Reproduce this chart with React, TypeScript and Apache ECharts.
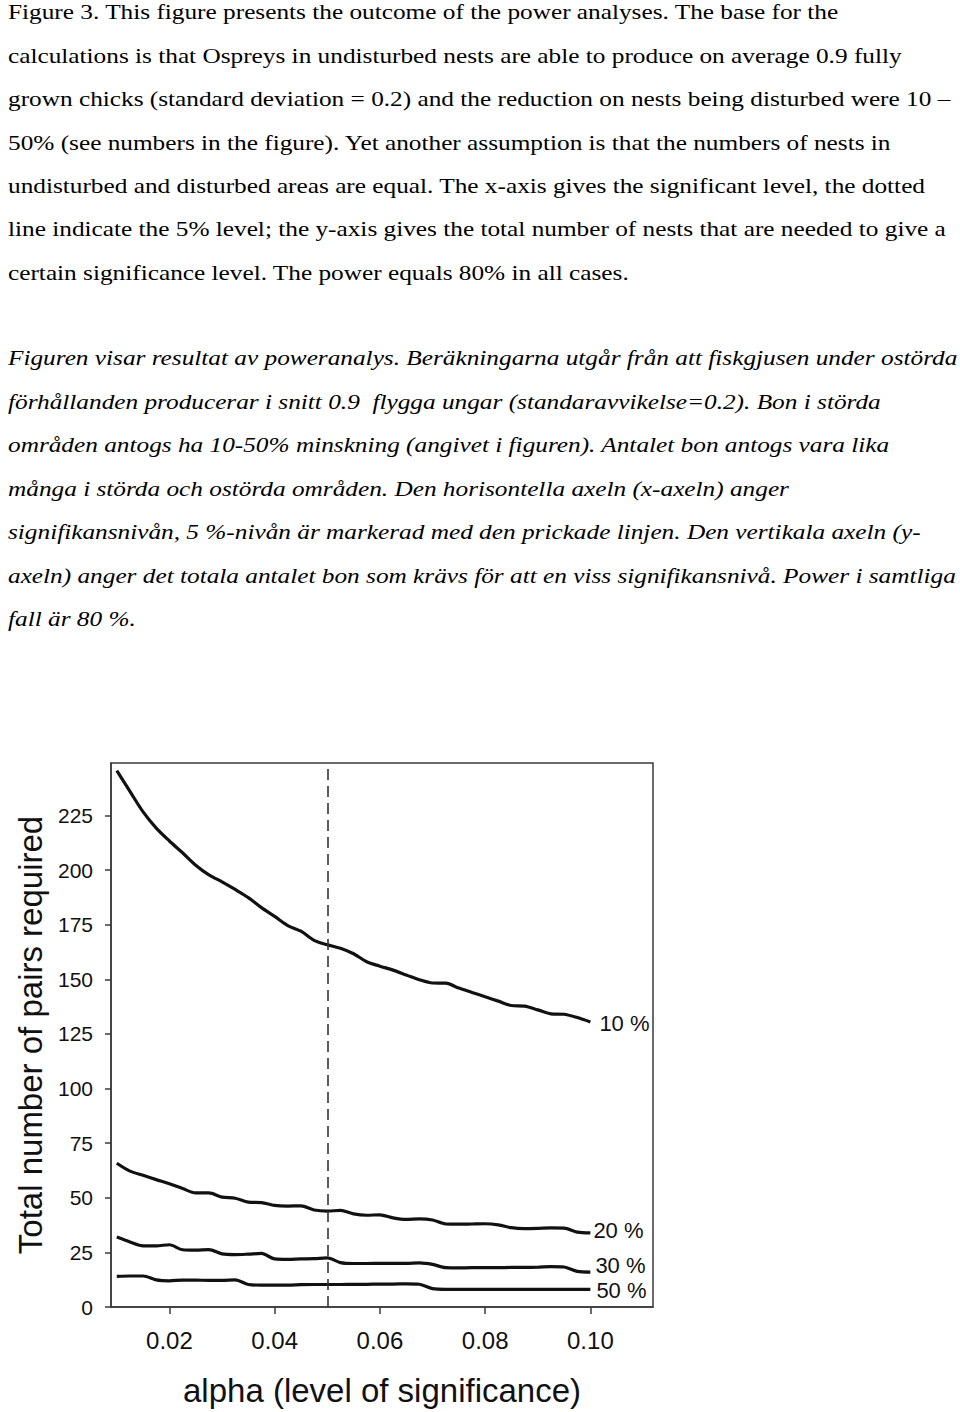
import React, { useEffect, useRef } from "react";
import * as echarts from "echarts";

// ---- Data ----
const alpha = [
  0.01, 0.0125, 0.015, 0.0175, 0.02, 0.0225, 0.025, 0.0275, 0.03, 0.0325,
  0.035, 0.0375, 0.04, 0.0425, 0.045, 0.0475, 0.05, 0.0525, 0.055, 0.0575,
  0.06, 0.0625, 0.065, 0.0675, 0.07, 0.0725, 0.075, 0.0775, 0.08, 0.0825,
  0.085, 0.0875, 0.09, 0.0925, 0.095, 0.0975, 0.1,
];

const pairs10 = [
  245.5, 236, 226.6, 219.2, 213.3, 207.9, 202.2, 197.8, 194.6, 191.1,
  187.4, 182.8, 178.8, 174.6, 172, 167.8, 165.8, 164.2, 161.7, 158,
  156, 154.2, 152, 149.8, 148.3, 148.2, 146, 144, 142, 140,
  138, 137.7, 136, 134.2, 134, 132.5, 130.5,
];

const pairs20 = [
  65.8, 62.2, 60.3, 58.3, 56.4, 54.2, 52.2, 52.2, 50.3, 49.8,
  48, 47.8, 46.5, 46.2, 46.3, 44.4, 43.9, 44.2, 42.6, 42,
  42.2, 40.8, 40.1, 40.3, 39.8, 38, 37.9, 38, 38.1, 37.6,
  36.3, 35.9, 36, 36.2, 36.1, 34.3, 33.9,
];

const pairs30 = [
  32, 29.8, 28, 28, 28.5, 26.2, 26, 26.3, 24.3, 24,
  24.2, 24.5, 22, 21.8, 22, 22.1, 22.5, 20.3, 19.9, 19.9,
  20, 20, 20, 20.2, 19.5, 18, 17.9, 18, 18, 18,
  18.1, 18.1, 18.2, 18.5, 18.3, 16.3, 16,
];

const pairs50 = [
  14, 14.2, 14.2, 12.4, 12, 12.3, 12.3, 12.2, 12.2, 12.4,
  10.3, 10, 10, 10, 10.2, 10.3, 10.3, 10.3, 10.4, 10.4,
  10.5, 10.5, 10.6, 10.4, 8.4, 8.1, 8.1, 8.1, 8.1, 8.1,
  8.1, 8.1, 8.1, 8.1, 8.1, 8.1, 8.1,
];

const seriesNames = ["10 %", "20 %", "30 %", "50 %"];
const xTicks = [0.02, 0.04, 0.06, 0.08, 0.1];
const yTicks = [0, 25, 50, 75, 100, 125, 150, 175, 200, 225];
const fivePercentLevel = 0.05;

const captionEnglish = [
  "Figure 3. This figure presents the outcome of the power analyses. The base for the",
  "calculations is that Ospreys in undisturbed nests are able to produce on average 0.9 fully",
  "grown chicks (standard deviation = 0.2) and the reduction on nests being disturbed were 10 \u2013",
  "50% (see numbers in the figure). Yet another assumption is that the numbers of nests in",
  "undisturbed and disturbed areas are equal. The x-axis gives the significant level, the dotted",
  "line indicate the 5% level; the y-axis gives the total number of nests that are needed to give a",
  "certain significance level. The power equals 80% in all cases.",
];

const captionSwedish = [
  "Figuren visar resultat av poweranalys. Beräkningarna utgår från att fiskgjusen under ostörda",
  "förhållanden producerar i snitt 0.9  flygga ungar (standaravvikelse=0.2). Bon i störda",
  "områden antogs ha 10-50% minskning (angivet i figuren). Antalet bon antogs vara lika",
  "många i störda och ostörda områden. Den horisontella axeln (x-axeln) anger",
  "signifikansnivån, 5 %-nivån är markerad med den prickade linjen. Den vertikala axeln (y-",
  "axeln) anger det totala antalet bon som krävs för att en viss signifikansnivå. Power i samtliga",
  "fall är 80 %.",
];

const SANS = "'Liberation Sans', Arial, sans-serif";
const SERIF = "'Liberation Serif', 'Times New Roman', serif";

export default function App() {
  const ref = useRef<HTMLDivElement>(null);

  useEffect(() => {
    if (!ref.current) return;
    const chart = echarts.init(ref.current, undefined, { renderer: "svg" });

    const allSeries = [pairs10, pairs20, pairs30, pairs50];
    const labelOffsets: [number, number][] = [
      [5, 2],
      [-1, -2],
      [1, -7],
      [2, 1],
    ];

    const captionGraphics: any[] = [];
    captionEnglish.forEach((t, i) => {
      captionGraphics.push({
        type: "text",
        x: 8,
        y: 12 + i * 43.4,
        scaleX: 1.15,
        style: {
          text: t,
          fill: "#000",
          font: `22px ${SERIF}`,
          textVerticalAlign: "middle",
        },
      });
    });
    captionSwedish.forEach((t, i) => {
      captionGraphics.push({
        type: "text",
        x: 8,
        y: 358 + i * 43.5,
        scaleX: 1.15,
        style: {
          text: t,
          fill: "#000",
          font: `italic 22px ${SERIF}`,
          textVerticalAlign: "middle",
        },
      });
    });

    chart.setOption({
      animation: false,
      backgroundColor: "#fff",
      grid: {
        left: 111,
        right: 307,
        top: 763,
        bottom: 105,
        show: true,
        borderColor: "#3a3a3a",
        borderWidth: 1.5,
        containLabel: false,
      },
      xAxis: {
        type: "value",
        min: 0.0089,
        max: 0.1119,
        name: "alpha (level of significance)",
        nameLocation: "middle",
        nameGap: 67,
        nameTextStyle: { fontFamily: SANS, fontSize: 33, color: "#111" },
        splitLine: { show: false },
        axisLine: { show: true, lineStyle: { color: "#3a3a3a", width: 1.5 } },
        axisTick: {
          show: true,
          length: 7,
          customValues: xTicks,
          lineStyle: { color: "#3a3a3a", width: 1.5 },
        },
        axisLabel: {
          customValues: xTicks,
          margin: 21,
          fontFamily: SANS,
          fontSize: 24,
          color: "#111",
          formatter: (v: number) => v.toFixed(2),
        },
      },
      yAxis: {
        type: "value",
        min: 0,
        max: 249,
        name: "Total number of pairs required",
        nameLocation: "middle",
        nameGap: 63,
        nameTextStyle: { fontFamily: SANS, fontSize: 33, color: "#111" },
        splitLine: { show: false },
        axisLine: { show: true, lineStyle: { color: "#3a3a3a", width: 1.5 } },
        axisTick: {
          show: true,
          length: 6,
          customValues: yTicks,
          lineStyle: { color: "#3a3a3a", width: 1.5 },
        },
        axisLabel: {
          customValues: yTicks,
          margin: 18,
          fontFamily: SANS,
          fontSize: 21,
          color: "#111",
        },
      },
      series: allSeries.map((vals, si) => ({
        type: "line",
        name: seriesNames[si],
        data: alpha.map((a, i) => [a, vals[i]]),
        showSymbol: false,
        smooth: 0.3,
        lineStyle: { color: "#111", width: 3.2 },
        endLabel: {
          show: true,
          formatter: seriesNames[si],
          fontFamily: SANS,
          fontSize: 22,
          color: "#111",
          distance: 4,
          offset: labelOffsets[si],
        },
        markLine:
          si === 0
            ? {
                silent: true,
                symbol: ["none", "none"],
                label: { show: false },
                lineStyle: { color: "#333", width: 1.6, type: [11, 6] },
                data: [{ xAxis: fivePercentLevel }],
              }
            : undefined,
      })),
      graphic: captionGraphics,
    });

    return () => chart.dispose();
  }, []);

  return (
    <div
      ref={ref}
      style={{ position: "absolute", left: 0, top: 0, width: 960, height: 1412 }}
    />
  );
}
